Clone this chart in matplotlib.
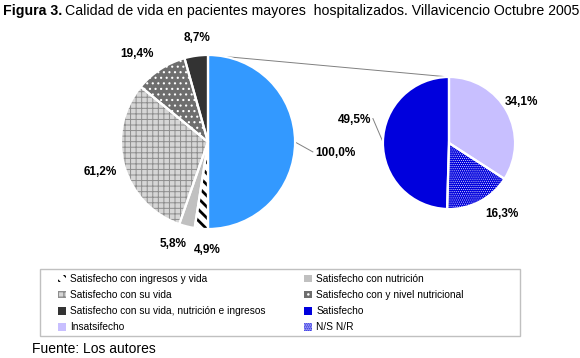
import matplotlib

matplotlib.use("Agg")
import matplotlib.pyplot as plt
import numpy as np
from matplotlib.patches import Patch, Rectangle, Wedge

plt.rcParams["font.family"] = ["Liberation Sans", "DejaVu Sans"]

# ---- data -------------------------------------------------------------
main_labels = [
    "Satisfecho con su vida, nutrición e ingresos",
    "Satisfecho con y nivel nutricional",
    "Satisfecho con su vida",
    "Satisfecho con nutrición",
    "Satisfecho con ingresos y vida",
]
main_values = [8.7, 19.4, 61.2, 5.8, 4.9]
other_value = 100.0  # aggregated slice, exploded into the second pie

sub_labels = ["Satisfecho", "N/S N/R", "Insatsifecho"]
sub_values = [49.5, 16.3, 34.1]

legend_order = [
    "Satisfecho con ingresos y vida",
    "Satisfecho con su vida",
    "Satisfecho con su vida, nutrición e ingresos",
    "Insatsifecho",
    "Satisfecho con nutrición",
    "Satisfecho con y nivel nutricional",
    "Satisfecho",
    "N/S N/R",
]

# ---- styles -------------------------------------------------------------
# (facecolor, hatch, hatch colour, hatch linewidth)
styles = {
    "Satisfecho con su vida, nutrición e ingresos": ("#333333", None, None, 0),
    "Satisfecho con y nivel nutricional": ("#6e6e6e", "...", "white", 0.8),
    "Satisfecho con su vida": ("#d6d6d6", "+++", "#8e8e8e", 0.7),
    "Satisfecho con nutrición": ("#c0c0c0", None, None, 0),
    "Satisfecho con ingresos y vida": ("white", "\\\\\\", "black", 2.0),
    "otros": ("#3399ff", None, None, 0),
    "Satisfecho": ("#0000dd", None, None, 0),
    "N/S N/R": ("#0000dd", "........", "white", 0.4),
    "Insatsifecho": ("#c8bfff", None, None, 0),
}

# label placement: (radius factor, angle offset in degrees)
main_lab_pos = [(1.20, -2), (1.30, 6), (1.29, 0), (1.24, -5), (1.24, 4)]
other_lab_pos = (1.47, -5)
sub_lab_pos = [(1.48, -13), (1.34, 9), (1.27, 1)]

W, H = 580, 358
fig = plt.figure(figsize=(W / 100, H / 100), dpi=100)
ax = fig.add_axes([0, 0, 1, 1])


def pct(v):
    return f"{v:.1f}%".replace(".", ",")


def point(w, ang, f=1.0):
    cx, cy = w.center
    a = np.deg2rad(ang)
    return cx + f * w.r * np.cos(a), cy + f * w.r * np.sin(a)


def decorate(w, name):
    face, hatch, hcol, hlw = styles[name]
    if hatch:
        with plt.rc_context({"hatch.linewidth": hlw}):
            ax.add_patch(
                Wedge(w.center, w.r, w.theta1, w.theta2, facecolor="none",
                      edgecolor=hcol, linewidth=0, hatch=hatch, zorder=2)
            )
    # white outline on top to open the gaps between slices
    ax.add_patch(
        Wedge(w.center, w.r, w.theta1, w.theta2, facecolor="none",
              edgecolor="white", linewidth=1.6, zorder=3)
    )


# ---- left pie ---------------------------------------------------------
left_names = main_labels + ["otros"]
left_wedges, _ = ax.pie(
    main_values + [other_value],
    colors=[styles[n][0] for n in left_names],
    startangle=90,
    center=(208, 216),
    radius=87,
    explode=[0.03] * 5 + [0.035],
    frame=True,
)
for w, n in zip(left_wedges, left_names):
    decorate(w, n)

for w, v, (f, off) in zip(left_wedges, main_values, main_lab_pos):
    mid = (w.theta1 + w.theta2) / 2 + off
    ax.text(*point(w, mid, f), pct(v), ha="center", va="center",
            fontsize=8.5, fontweight="bold")

blue = left_wedges[-1]
mid = (blue.theta1 + blue.theta2) / 2
f, off = other_lab_pos
ax.text(*point(blue, mid + off, f), pct(other_value), ha="center",
        va="center", fontsize=8.5, fontweight="bold")
p0 = point(blue, mid)
p1 = point(blue, mid - 5.4, 1.21)
ax.plot([p0[0], p1[0]], [p0[1], p1[1]], color="#808080", lw=0.7)

# ---- right pie --------------------------------------------------------
right_wedges, _ = ax.pie(
    sub_values,
    colors=[styles[n][0] for n in sub_labels],
    startangle=90,
    center=(449, 215),
    radius=66,
    explode=[0.045] * 3,
    frame=True,
)
for w, n in zip(right_wedges, sub_labels):
    decorate(w, n)

for w, v, (f, off) in zip(right_wedges, sub_values, sub_lab_pos):
    mid = (w.theta1 + w.theta2) / 2 + off
    ax.text(*point(w, mid, f), pct(v), ha="center", va="center",
            fontsize=8.5, fontweight="bold")

sat = right_wedges[0]
mid = (sat.theta1 + sat.theta2) / 2
p0 = point(sat, mid)
p1 = point(sat, mid - 17, 1.21)
ax.plot([p0[0], p1[0]], [p0[1], p1[1]], color="#808080", lw=0.7)

# series line joining the two pies
a = point(blue, blue.theta2)
b = point(right_wedges[-1], right_wedges[-1].theta2)
ax.plot([a[0], b[0]], [a[1], b[1]], color="#808080", lw=0.7)

ax.set_xlim(0, W)
ax.set_ylim(0, H)
ax.set_aspect("auto")
ax.axis("off")

# ---- legend -------------------------------------------------------------
handles = []
for n in legend_order:
    face, hatch, hcol, hlw = styles[n]
    with plt.rc_context({"hatch.linewidth": max(hlw, 0.5)}):
        handles.append(Patch(facecolor=face, hatch=hatch,
                             edgecolor=hcol if hatch else face, linewidth=0))
fig.legend(
    handles, legend_order, ncol=2, loc="upper left",
    bbox_to_anchor=(58 / W, 1 - 274 / H), frameon=False, fontsize=7.3,
    handlelength=0.8, handleheight=0.8, handletextpad=0.4,
    labelspacing=0.6, columnspacing=3.8, borderpad=0, borderaxespad=0,
)
ax.add_patch(Rectangle((40, H - 336), 480, 67, facecolor="none",
                       edgecolor="#c0c0c0", lw=1))

# ---- title and source ---------------------------------------------------
t1 = fig.text(3 / W, 1 - 11 / H, "Figura 3.", fontsize=10.2,
              fontweight="bold", va="center")
fig.canvas.draw()
x_end = t1.get_window_extent().x1
fig.text((x_end + 3) / W, 1 - 11 / H,
         "Calidad de vida en pacientes mayores  hospitalizados. "
         "Villavicencio Octubre 2005", fontsize=10.2, va="center")
fig.text(32 / W, 1 - 349 / H, "Fuente: Los autores", fontsize=10,
         va="center")

fig.savefig("out.png", dpi=100)
